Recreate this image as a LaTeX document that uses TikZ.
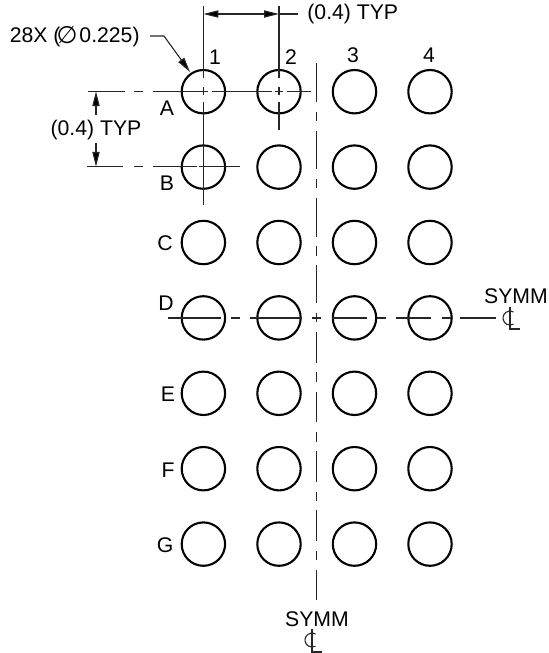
\documentclass[tikz,border=0pt]{standalone}
\usepackage{fontspec}
\setmainfont{Liberation Sans}
\newfontfamily\symfont{DejaVu Sans}
\usetikzlibrary{arrows.meta}
\tikzset{
  pad/.style={circle,draw=black,line width=1.05pt,minimum size=21.7pt,inner sep=0pt},
  thinline/.style={line width=0.55pt,draw=black!85},
  dimtip/.style={-{Triangle[length=7.5pt,width=3.6pt,fill=black]}},
  lbl/.style={inner sep=0pt,font=\fontsize{10.6}{12}\selectfont,text=black}
}
\begin{document}
\begin{tikzpicture}[x=0.5pt,y=-0.5pt]
\useasboundingbox (0,0) rectangle (548,653);
% pads
\foreach \r/\py in {A/91.7,B/167.1,C/242.5,D/317.9,E/393.3,F/468.7,G/544.1}
  \foreach \c/\px in {1/203.4,2/279,3/354.5,4/430}
    \node[pad] (p\r\c) at (\px,\py) {};
% column centre lines
\foreach \a/\b in {6/78,87/95,102/205}
  \draw[thinline] (203.4,\a) -- (203.4,\b);
\foreach \a/\b in {6/78,87/95,102/130}
  \draw[thinline] (279,\a) -- (279,\b);
% row A, B
\foreach \a/\b in {88/125,134/143,153/199,199/207.5,212/272,275/283,287/311}
  \draw[thinline] (\a,91.2) -- (\b,91.2);
\foreach \a/\b in {87/123,134/143,153/197,199/240}
  \draw[thinline] (\a,166.8) -- (\b,166.8);
% row D
\foreach \a/\b in {168/221,231/240,250/302,312/321,332/367,377/386,396/431,442/451,460/496}
  \draw[thinline] (\a,318) -- (\b,318);
% vertical symmetry
\foreach \a/\b in {63/102,112/121,131/169,179/188,198/237,246/256,265/303,313/322,332/363,372/382,392/422,432/442,451/482,492/501,510/541,551/560,570/600}
  \draw[thinline] (316.7,\a) -- (316.7,\b);
% top dimension
\coordinate (dl) at (203.4,14);
\coordinate (dr) at (279,14);
\coordinate (de) at (298,14);
\draw[thinline,dimtip] (241,14) -- (dl);
\draw[thinline,dimtip] (241,14) -- (dr);
\draw[thinline] (dr) -- (de);
\node[lbl,anchor=west] (t1) at (307,14) {(0.4) TYP};
% left dimension
\coordinate (du) at (96,91.2);
\coordinate (dd) at (96,166.8);
\draw[thinline,dimtip] (96,115) -- (du);
\draw[thinline,dimtip] (96,143) -- (dd);
\node[lbl] (t2) at (96,130) {(0.4) TYP};
% leader
\node[lbl,anchor=east] (t3) at (140,37) {28X (\hspace{-2pt}{\symfont\fontsize{12}{12}\selectfont\raisebox{-0.6pt}{\char"2205}}\hspace{1pt}0.225)};
\coordinate (l1) at (150,36);
\coordinate (l2) at (164,36);
\coordinate (l3) at (190,72);
\draw[thinline,dimtip] (l1) -- (l2) -- (l3);
% labels
\foreach \n/\t/\x/\y in {n1/1/215/57,n2/2/291/57,n3/3/353/55,n4/4/429/55,
  nA/A/167/108,nB/B/167/183,nC/C/165/243,nD/D/166/303,nE/E/168/394,nF/F/168/470,nG/G/165/545,
  s1/SYMM/516/296,s2/SYMM/317/619}
  \node[lbl] (\n) at (\x,\y) {\t};
% centreline symbols
\draw[thinline] (510,307) -- (510,329) -- (520,329);
\draw[thinline] (513.5,312) arc[start angle=-60,end angle=-300,radius=7];
\draw[thinline] (312,629) -- (312,652) -- (322,652);
\draw[thinline] (315.5,634) arc[start angle=-60,end angle=-300,radius=7];
\end{tikzpicture}
\end{document}
